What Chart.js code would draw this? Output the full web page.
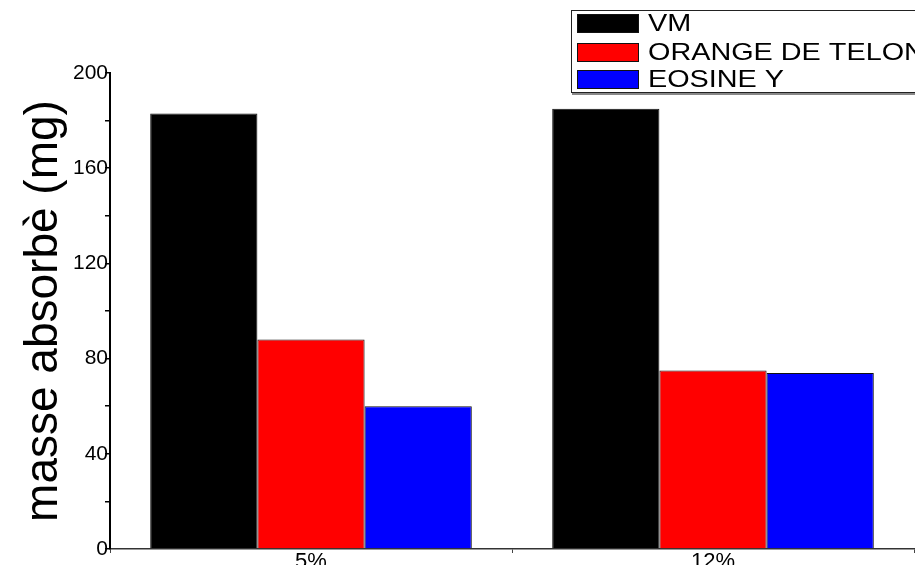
<!DOCTYPE html>
<html><head><meta charset="utf-8">
<script src="https://cdn.jsdelivr.net/npm/chart.js@4/dist/chart.umd.min.js"></script>
<style>html,body{margin:0;padding:0;background:#fff;}#wrap{width:915px;height:565px;position:relative;}</style>
</head><body><div id="wrap"><canvas id="c" width="915" height="565"></canvas></div>
<script>
const categories = ['5%', '12%'];
const seriesNames = ['VM', 'ORANGE DE TELON', 'EOSINE Y'];
const vmValues = [183, 185];
const orangeValues = [88, 75];
const eosineValues = [60, 74];
const yMin = 0, yMax = 200, yLabelStep = 40, yMinorStep = 20;
const seriesColors = ['#000000', '#ff0000', '#0000ff'];
const axisTitle = 'masse absorbè (mg)';

Chart.defaults.font.family = "'Liberation Sans', Arial, sans-serif";
Chart.defaults.color = '#000';

const legendPlugin = {
  id: 'boxLegend',
  afterDraw(chart) {
    const ctx = chart.ctx;
    ctx.save();
    ctx.fillStyle = '#fff';
    ctx.fillRect(571, 10, 360, 83);
    ctx.strokeStyle = '#222';
    ctx.lineWidth = 1;
    ctx.strokeRect(571.5, 10.5, 360, 82);
    ctx.strokeStyle = '#888';
    ctx.lineWidth = 2;
    ctx.beginPath(); ctx.moveTo(572, 94); ctx.lineTo(915, 94); ctx.stroke();
    const rows = [23, 52, 79];
    chart.data.datasets.forEach((ds, i) => {
      const cy = rows[i];
      ctx.fillStyle = ds.backgroundColor;
      ctx.fillRect(577, cy - 9, 61, 18);
      ctx.strokeStyle = '#111';
      ctx.lineWidth = 1;
      ctx.strokeRect(577.5, cy - 8.5, 61, 18);
      ctx.save();
      ctx.translate(648, cy);
      ctx.scale(1.2, 1);
      ctx.fillStyle = '#000';
      ctx.font = "24px 'Liberation Sans', Arial, sans-serif";
      ctx.textBaseline = 'middle';
      ctx.fillText(ds.label, 0, 1);
      ctx.restore();
    });
    ctx.restore();
  }
};

const barStyle = { borderColor: '#111', borderWidth: 1, categoryPercentage: 0.8, barPercentage: 1.0 };

new Chart(document.getElementById('c'), {
  type: 'bar',
  data: {
    labels: categories,
    datasets: [
      Object.assign({ label: seriesNames[0], data: vmValues, backgroundColor: seriesColors[0] }, barStyle),
      Object.assign({ label: seriesNames[1], data: orangeValues, backgroundColor: seriesColors[1] }, barStyle),
      Object.assign({ label: seriesNames[2], data: eosineValues, backgroundColor: seriesColors[2] }, barStyle)
    ]
  },
  options: {
    responsive: false,
    animation: false,
    devicePixelRatio: 1,
    layout: { padding: { top: 73, right: 1, left: 0, bottom: 0 } },
    plugins: { legend: { display: false }, tooltip: { enabled: false } },
    scales: {
      x: {
        offset: true,
        afterFit(s) { s.height = 16; },
        grid: { offset: true, drawOnChartArea: false, drawTicks: true, tickLength: 4, color: '#444', lineWidth: 1 },
        border: { display: true, color: '#333', width: 1.5 },
        ticks: { font: { size: 22 }, padding: -4, color: '#000' }
      },
      y: {
        min: yMin, max: yMax,
        afterFit(s) { s.width = 110; },
        grid: { drawOnChartArea: false, drawTicks: true, tickLength: 5, color: '#000', lineWidth: 1.5 },
        border: { display: true, color: '#000', width: 2 },
        ticks: {
          stepSize: yMinorStep, autoSkip: false, padding: -3, font: { size: 21 }, color: '#000',
          callback: (v) => (v % yLabelStep === 0 ? String(v) : '')
        },
        title: { display: true, text: axisTitle, font: { size: 46 }, color: '#000', padding: { top: 17, bottom: 0 } }
      }
    }
  },
  plugins: [legendPlugin]
});
</script>
</body></html>
